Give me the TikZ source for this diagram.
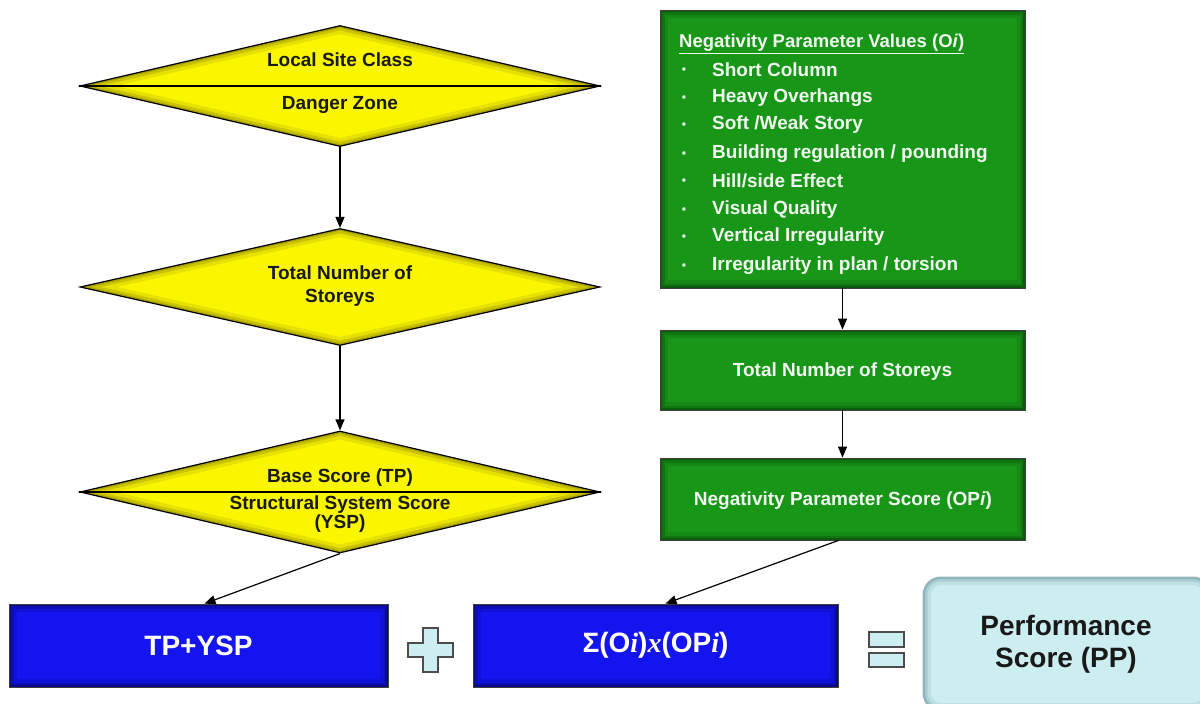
\documentclass[tikz,border=0pt]{standalone}
\usepackage{fontspec}
\setmainfont{Liberation Sans}
\newfontfamily\tnrfont{Liberation Serif}
\usetikzlibrary{shapes.geometric,arrows.meta,calc}
\definecolor{ylw}{RGB}{250,246,0}
\definecolor{ylwedge}{RGB}{120,110,0}
\definecolor{grn}{RGB}{24,150,24}
\definecolor{grnedge}{RGB}{5,60,5}
\definecolor{blu}{RGB}{20,20,238}
\definecolor{bluedge}{RGB}{5,5,80}
\definecolor{cyn}{RGB}{205,238,241}
\definecolor{cynedge}{RGB}{110,150,160}
\definecolor{wtxt}{RGB}{240,248,240}
\newcommand{\ivar}[1]{{\tnrfont\bfseries\itshape #1}}
\tikzset{
  dglow/.style={path picture={\foreach \w/\o in {16/0.15,9/0.25,4/0.4}{\draw[line width=\w pt, ylwedge, opacity=\o] (path picture bounding box.west) -- (path picture bounding box.north) -- (path picture bounding box.east) -- (path picture bounding box.south) -- cycle;}}},
  rglow/.style={path picture={\foreach \w/\o in {16/0.15,9/0.25,4/0.45}{\draw[line width=\w pt, #1, opacity=\o] (path picture bounding box.north west) rectangle (path picture bounding box.south east);}}},
  decision/.style={diamond, aspect=1, draw=black, line width=1.2pt, fill=ylw, minimum width=520pt, inner sep=0pt, dglow},
  dtext/.style={font=\fontsize{19}{23}\selectfont\bfseries, text=black!90, align=center, inner sep=0pt},
  gbox/.style={rectangle, draw=black!75, line width=0.8pt, fill=grn, minimum width=365pt, inner sep=0pt, rglow=grnedge},
  gtext/.style={font=\fontsize{19}{23}\selectfont\bfseries, text=wtxt, inner sep=0pt},
  bbox/.style={rectangle, draw=black!75, line width=0.8pt, fill=blu, minimum height=83pt, inner sep=0pt, rglow=bluedge, font=\fontsize{28}{32}\selectfont\bfseries, text=white},
  bul/.style={font=\fontsize{12}{14}\selectfont\bfseries, text=wtxt, inner sep=0pt},
  arr/.style={line width=1.2pt, -{Triangle[length=11pt,width=9pt]}},
  symb/.style={fill=cyn, draw=black!70, line width=1.2pt},
}
\begin{document}
\begin{tikzpicture}[x=1pt,y=-1pt]
\useasboundingbox (0,0) rectangle (1200,704);
\clip (0,0) rectangle (1200,704);
\fill[white] (0,0) rectangle (1200,704);

% left column: diamonds
\node[decision, minimum height=121pt] (d1) at (340,86) {};
\draw[line width=1.2pt] (d1.west) -- (d1.east);
\node[dtext] (d1a) at (340,60) {Local Site Class};
\node[dtext] (d1b) at (340,105) {Danger Zone};

\node[decision, minimum height=117pt] (d2) at (340,287) {};
\node[dtext] (d2t) at (340,286) {Total Number of\\Storeys};

\node[decision, minimum height=122pt] (d3) at (340,492) {};
\draw[line width=1.2pt] (d3.west) -- (d3.east);
\node[dtext] (d3a) at (340,478) {Base Score (TP)};
\node[dtext, font=\fontsize{19}{19}\selectfont\bfseries] (d3b) at (340,514) {Structural System Score\\(YSP)};

% right column: green boxes
\node[gbox, minimum height=278pt] (g1) at (842.5,149) {};
\node[anchor=west, font=\fontsize{18.5}{22}\selectfont\bfseries, text=wtxt, inner sep=0pt] (g1t) at (679,44) {\underline{Negativity Parameter Values (O\textit{i})}};
\node[bul] (bu1) at (684,71) {•};  \node[gtext, anchor=west] (it1) at (712,70) {Short Column};
\node[bul] (bu2) at (684,99) {•};  \node[gtext, anchor=west] (it2) at (712,98) {Heavy Overhangs};
\node[bul] (bu3) at (684,126) {•}; \node[gtext, anchor=west] (it3) at (712,125) {Soft /Weak Story};
\node[bul] (bu4) at (684,155) {•}; \node[gtext, anchor=west] (it4) at (712,154) {Building regulation / pounding};
\node[bul] (bu5) at (684,182) {•}; \node[gtext, anchor=west] (it5) at (712,181) {Hill/side Effect};
\node[bul] (bu6) at (684,211) {•}; \node[gtext, anchor=west] (it6) at (712,210) {Visual Quality};
\node[bul] (bu7) at (684,238) {•}; \node[gtext, anchor=west] (it7) at (712,237) {Vertical Irregularity};
\node[bul] (bu8) at (684,267) {•}; \node[gtext, anchor=west] (it8) at (712,266) {Irregularity in plan / torsion};

\node[gbox, minimum height=80pt] (g2) at (842.5,370) {};
\node[gtext] (g2t) at (842.5,372) {Total Number of Storeys};

\node[gbox, minimum height=82pt] (g3) at (842.5,499) {};
\node[gtext] (g3t) at (843,501) {Negativity Parameter Score (OP\textit{i})};

% bottom row
\node[bbox, minimum width=379pt] (b1) at (198.5,645.5) {TP+YSP};
\node[bbox, minimum width=365pt] (b2) at (655.5,645.5) {Σ(O\ivar{i})\ivar{x}(OP\ivar{i})};

\draw[symb] (423,628) -- (438,628) -- (438,643) -- (453,643) -- (453,657) -- (438,657) -- (438,672) -- (423,672) -- (423,657) -- (408,657) -- (408,643) -- (423,643) -- cycle;
\draw[symb] (869,632) rectangle (904,647);
\draw[symb] (869,653) rectangle (904,667);

\node[rectangle, rounded corners=18pt, fill=cyn, draw=cynedge!70, line width=1pt, minimum width=288pt, minimum height=134pt, rglow=cynedge] (pp) at (1067,644) {};
\node[font=\fontsize{28}{32}\selectfont\bfseries, text=black!90, align=center, inner sep=0pt] (ppt) at (1066,644) {Performance\\Score (PP)};

% connectors
\draw[arr] (d1.south) -- (d2.north);
\draw[arr] (d2.south) -- (d3.north);
\draw[arr] (d3.south) -- ([xshift=6pt]b1.north);
\draw[arr] (g1.south) -- (g2.north);
\draw[arr] (g2.south) -- (g3.north);
\draw[arr] ([xshift=-4pt]g3.south) -- ([xshift=10pt]b2.north);
\end{tikzpicture}
\end{document}
